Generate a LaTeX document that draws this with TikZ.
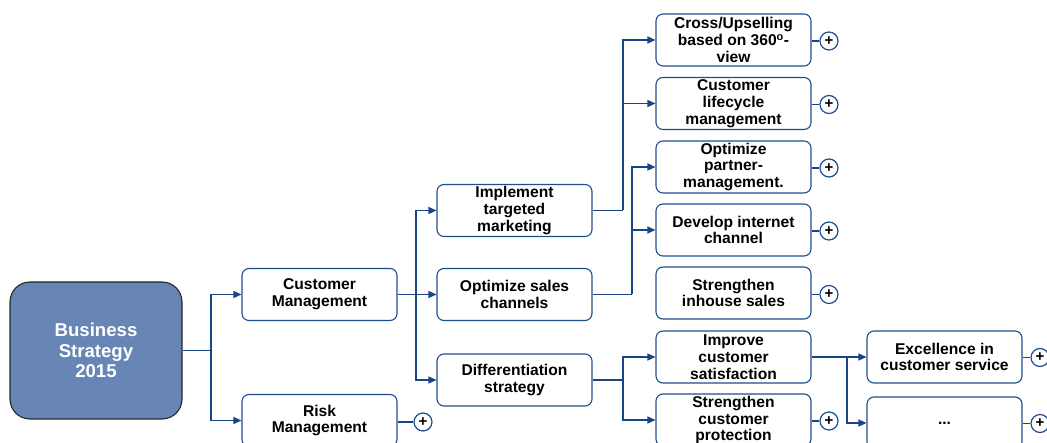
\documentclass[tikz,border=0pt]{standalone}
\usepackage{fontspec}
\setmainfont{Liberation Sans}
\usetikzlibrary{arrows.meta}
\definecolor{boxblue}{HTML}{1F4E8C}
\definecolor{linkblue}{HTML}{1A4488}
\definecolor{bsfill}{HTML}{6785B5}
\tikzset{
  box/.style={draw=boxblue, line width=1.1pt, rounded corners=7pt, fill=white,
    minimum width=155pt, minimum height=52pt, align=center, inner sep=1pt,
    font=\fontsize{15.6}{16.8}\selectfont\bfseries},
  bigbox/.style={draw=black!85, line width=1.1pt, rounded corners=20pt, fill=bsfill,
    minimum width=172pt, minimum height=137pt, align=center, text=white,
    font=\fontsize{18.6}{20.5}\selectfont\bfseries},
  plus/.style={draw=boxblue, line width=1.2pt, circle, fill=white, minimum size=18pt, inner sep=0pt,
    font=\fontsize{15}{15}\selectfont\bfseries},
  link/.style={draw=linkblue, line width=1.4pt},
  arr/.style={link, -{Triangle[length=8pt,width=7pt]}},
}
\begin{document}
\begin{tikzpicture}[x=1pt,y=-1pt]
\useasboundingbox (0,0) rectangle (1047,443);
\clip (0,0) rectangle (1047,443);
% nodes
\node[bigbox] (bs) at (96,350.5) {Business\\Strategy\\2015};
\node[box] (cm) at (319.5,294.5) {Customer\\Management};
\node[box] (rm) at (319.5,420.5) {Risk\\Management};
\node[box] (it) at (514.5,210.5) {Implement\\targeted\\marketing};
\node[box] (os) at (514.5,294.5) {Optimize sales\\channels};
\node[box] (ds) at (514.5,380) {Differentiation\\strategy};
\node[box] (a) at (733.5,40) {Cross/Upselling\\based on 360\textsuperscript{o}-\\view};
\node[box] (b) at (733.5,103.5) {Customer\\lifecycle\\management};
\node[box] (c) at (733.5,167) {Optimize\\partner-\\management.};
\node[box] (d) at (733.5,230) {Develop internet\\channel};
\node[box] (e) at (733.5,293) {Strengthen\\inhouse sales};
\node[box] (f) at (733.5,357) {Improve\\customer\\satisfaction};
\node[box] (g) at (733.5,420) {Strengthen\\customer\\protection};
\node[box] (h) at (944.5,357) {Excellence in\\customer service};
\node[box] (k) at (944.5,423) {...};
% plus circles
\node[plus] (prm) at (423,422) {+};
\node[plus] (pa) at (829,41) {+};
\node[plus] (pb) at (829,104.5) {+};
\node[plus] (pc) at (829,168) {+};
\node[plus] (pd) at (829,231) {+};
\node[plus] (pe) at (829,294.5) {+};
\node[plus] (pg) at (829,421) {+};
\node[plus] (ph) at (1040,357.5) {+};
\node[plus] (pk) at (1040,423.5) {+};
% junctions
\coordinate (j1) at (211,350.5);
\coordinate (j2) at (416,294.5);
\coordinate (j3) at (623,210.5);
\coordinate (j4) at (632,294.5);
\coordinate (j5) at (623,380);
\coordinate (j6) at (847,357);
% connectors
\draw[link] (bs.east) -- (j1);
\draw[arr] (j1) |- (cm.west);
\draw[arr] (j1) |- (rm.west);
\draw[link] (cm.east) -- (j2);
\draw[arr] (j2) |- (it.west);
\draw[arr] (j2) -- (os.west);
\draw[arr] (j2) |- (ds.west);
\draw[link] (it.east) -- (j3);
\draw[arr] (j3) |- (a.west);
\draw[arr] (j3) |- (b.west);
\draw[link] (os.east) -- (j4);
\draw[arr] (j4) |- (c.west);
\draw[arr] (j4) |- (d.west);
\draw[link] (ds.east) -- (j5);
\draw[arr] (j5) |- (f.west);
\draw[arr] (j5) |- (g.west);
\draw[link] (f.east) -- (j6);
\draw[arr] (j6) -- (h.west);
\draw[arr] (j6) |- (k.west);
% plus links
\draw[link, line width=1.1pt] (rm.east |- prm) -- (prm.west);
\draw[link, line width=1.1pt] (a.east |- pa) -- (pa.west);
\draw[link, line width=1.1pt] (b.east |- pb) -- (pb.west);
\draw[link, line width=1.1pt] (c.east |- pc) -- (pc.west);
\draw[link, line width=1.1pt] (d.east |- pd) -- (pd.west);
\draw[link, line width=1.1pt] (e.east |- pe) -- (pe.west);
\draw[link, line width=1.1pt] (g.east |- pg) -- (pg.west);
\draw[link, line width=1.1pt] (h.east |- ph) -- (ph.west);
\draw[link, line width=1.1pt] (k.east |- pk) -- (pk.west);
\end{tikzpicture}
\end{document}
